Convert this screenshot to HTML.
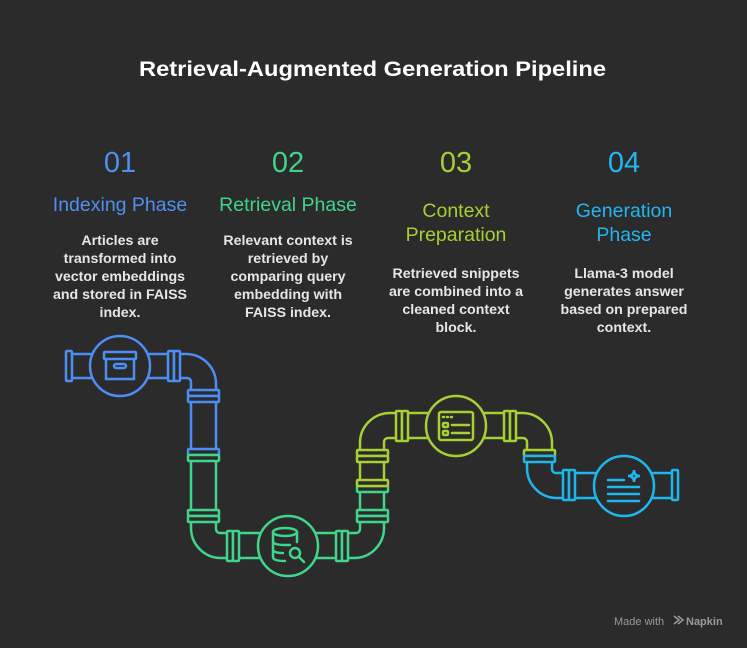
<!DOCTYPE html>
<html><head><meta charset="utf-8"><style>
html,body{margin:0;padding:0;background:#2b2b2b;}
svg{display:block;}
text{font-family:"Liberation Sans",sans-serif;}
</style></head><body>
<svg width="747" height="648" viewBox="0 0 747 648" xmlns="http://www.w3.org/2000/svg">
<rect width="747" height="648" fill="#2b2b2b"/>
<text x="139" y="76" textLength="467" lengthAdjust="spacingAndGlyphs" font-size="21" font-weight="bold" fill="#ffffff">Retrieval-Augmented Generation Pipeline</text>

<g text-anchor="middle">
<text x="120" y="172" font-size="29" fill="#4f8ff2" font-weight="300">01</text>
<text x="288" y="172" font-size="29" fill="#42d38a">02</text>
<text x="456" y="172" font-size="29" fill="#a6cf33">03</text>
<text x="624" y="172" font-size="29" fill="#22b6ef">04</text>

<text x="120" y="211" font-size="19.5" fill="#4f8ff2">Indexing Phase</text>
<text x="288" y="211" font-size="19.5" fill="#42d38a">Retrieval Phase</text>
<text x="456" y="217" font-size="19.5" fill="#a6cf33">Context</text>
<text x="456" y="241" font-size="19.5" fill="#a6cf33">Preparation</text>
<text x="624" y="217" font-size="19.5" fill="#22b6ef">Generation</text>
<text x="624" y="241" font-size="19.5" fill="#22b6ef">Phase</text>

<g font-size="14.2" fill="#e6e6e6" font-weight="bold">
<text x="120" y="245">Articles are</text>
<text x="120" y="263">transformed into</text>
<text x="120" y="281">vector embeddings</text>
<text x="120" y="299">and stored in FAISS</text>
<text x="120" y="317">index.</text>
<text x="288" y="245">Relevant context is</text>
<text x="288" y="263">retrieved by</text>
<text x="288" y="281">comparing query</text>
<text x="288" y="299">embedding with</text>
<text x="288" y="317">FAISS index.</text>
<text x="456" y="278">Retrieved snippets</text>
<text x="456" y="296">are combined into a</text>
<text x="456" y="314">cleaned context</text>
<text x="456" y="332">block.</text>
<text x="624" y="278">Llama-3 model</text>
<text x="624" y="296">generates answer</text>
<text x="624" y="314">based on prepared</text>
<text x="624" y="332">context.</text>
</g>
</g>

<g fill="none" stroke-width="2.5" stroke-linecap="round">
<g stroke="#4d8ef5">
<path d="M72,354 H168 M72,378 H168"/>
<path d="M180,354 H186 A30,30 0 0 1 216,384 V450 M180,378 H187 A4,4 0 0 1 191,382 V450"/>
<rect x="66" y="351" width="6" height="30" rx="1" fill="#2b2b2b"/>
<rect x="168" y="351" width="6" height="30" rx="1" fill="#2b2b2b"/>
<rect x="174" y="351" width="6" height="30" rx="1" fill="#2b2b2b"/>
<rect x="188" y="390" width="31" height="6" rx="1" fill="#2b2b2b"/>
<rect x="188" y="396" width="31" height="6" rx="1" fill="#2b2b2b"/>
<rect x="188" y="449" width="31" height="6" rx="1" fill="#2b2b2b"/>
<circle cx="120" cy="366" r="30" fill="#2b2b2b"/>
<rect x="104" y="352" width="32" height="7" rx="1"/>
<path d="M106,359 V379 H134 V359"/>
<rect x="114" y="364" width="12" height="4" rx="2"/>
</g>
<g stroke="#3fd58b">
<path d="M191,462 V510 M216,462 V510"/>
<path d="M191,522 V528 A30,30 0 0 0 221,558 H227 M216,522 V529 A4,4 0 0 0 220,533 H227"/>
<path d="M240,533 H336 M240,558 H336"/>
<path d="M348,533 H356 A4,4 0 0 0 360,529 V492 M348,558 H354 A30,30 0 0 0 384,528 V492"/>
<rect x="188" y="455" width="31" height="6" rx="1" fill="#2b2b2b"/>
<rect x="188" y="510" width="31" height="6" rx="1" fill="#2b2b2b"/>
<rect x="188" y="516" width="31" height="6" rx="1" fill="#2b2b2b"/>
<rect x="227" y="531" width="6" height="30" rx="1" fill="#2b2b2b"/>
<rect x="233" y="531" width="6" height="30" rx="1" fill="#2b2b2b"/>
<rect x="336" y="531" width="6" height="30" rx="1" fill="#2b2b2b"/>
<rect x="342" y="531" width="6" height="30" rx="1" fill="#2b2b2b"/>
<rect x="357" y="510" width="31" height="6" rx="1" fill="#2b2b2b"/>
<rect x="357" y="516" width="31" height="6" rx="1" fill="#2b2b2b"/>
<rect x="357" y="486" width="31" height="6" rx="1" fill="#2b2b2b"/>
<circle cx="288" cy="546" r="30" fill="#2b2b2b"/>
<ellipse cx="285" cy="532" rx="12" ry="4"/>
<path d="M273,532 V557 Q273,561 285,561 M297,532 V542 M273,541 Q273,545 285,545 H290 M273,549 Q273,553 283,553"/>
<circle cx="295" cy="553" r="5"/>
<path d="M299,557 L304,562"/>
</g>
<g stroke="#a7d133">
<path d="M360,480 V462 M384,480 V462"/>
<path d="M360,450 V443 A30,30 0 0 1 390,413 H396 M384,450 V442 A4,4 0 0 1 388,438 H396"/>
<path d="M408,413 H504 M408,438 H504"/>
<path d="M516,413 H522 A30,30 0 0 1 552,443 V450 M516,438 H523 A4,4 0 0 1 527,442 V450"/>
<rect x="357" y="480" width="31" height="6" rx="1" fill="#2b2b2b"/>
<rect x="357" y="450" width="31" height="6" rx="1" fill="#2b2b2b"/>
<rect x="357" y="456" width="31" height="6" rx="1" fill="#2b2b2b"/>
<rect x="396" y="411" width="6" height="30" rx="1" fill="#2b2b2b"/>
<rect x="402" y="411" width="6" height="30" rx="1" fill="#2b2b2b"/>
<rect x="504" y="411" width="6" height="30" rx="1" fill="#2b2b2b"/>
<rect x="510" y="411" width="6" height="30" rx="1" fill="#2b2b2b"/>
<rect x="524" y="450" width="31" height="6" rx="1" fill="#2b2b2b"/>
<circle cx="456" cy="426" r="30" fill="#2b2b2b"/>
<rect x="439" y="412" width="34" height="28" rx="2"/>
<path d="M443,417 h1 M447,417 h1 M451,417 h1"/>
<rect x="443" y="423" width="5" height="4" rx="1"/>
<rect x="443" y="431" width="5" height="4" rx="1"/>
<path d="M452,425 H469 M452,433 H469"/>
</g>
<g stroke="#1db7ef">
<path d="M527,462 V468 A30,30 0 0 0 557,498 H563 M552,462 V469 A4,4 0 0 0 556,473 H563"/>
<path d="M576,473 H672 M576,498 H672"/>
<rect x="524" y="456" width="31" height="6" rx="1" fill="#2b2b2b"/>
<rect x="563" y="470" width="6" height="30" rx="1" fill="#2b2b2b"/>
<rect x="569" y="470" width="6" height="30" rx="1" fill="#2b2b2b"/>
<rect x="672" y="470" width="6" height="30" rx="1" fill="#2b2b2b"/>
<circle cx="624" cy="486" r="30" fill="#2b2b2b"/>
<path d="M608,480 H624 M608,487 H639 M608,494 H639 M608,501 H639"/>
<path d="M634,470 Q634,476 640,476 Q634,476 634,482 Q634,476 628,476 Q634,476 634,470 Z"/>
</g>
</g>

<text x="614" y="625" font-size="11" fill="#9a9a9a">Made with</text>
<path d="M674,616 l5,4 -5,4 M678,616 l5,4 -5,4" stroke="#9a9a9a" stroke-width="1.5" fill="none"/>
<text x="686" y="625" font-size="11" fill="#9a9a9a" font-weight="bold">Napkin</text>
</svg>
</body></html>
